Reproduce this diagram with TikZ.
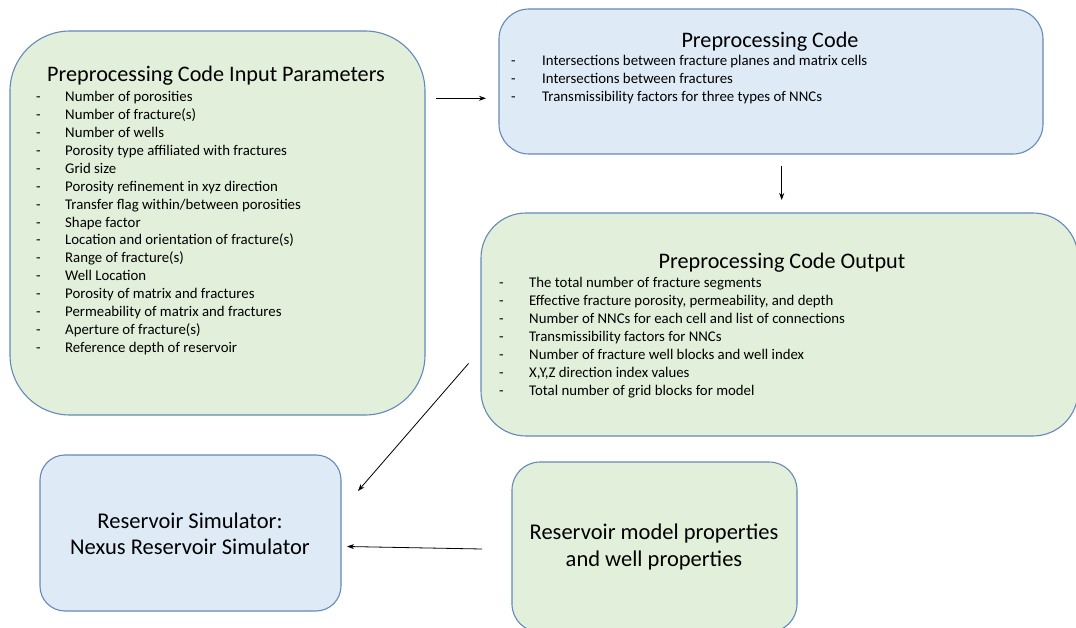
\documentclass[tikz,border=0pt]{standalone}
\usepackage{fontspec}
\setmainfont{Carlito}
\usetikzlibrary{arrows.meta}
\definecolor{gfill}{HTML}{E2EFDA}
\definecolor{bfill}{HTML}{DEEBF7}
\definecolor{edge}{HTML}{6489BB}
\begin{document}
\begin{tikzpicture}[x=1pt,y=-1pt,
  box/.style={draw=edge, line width=1.1pt, inner sep=0pt, outer sep=0pt},
  item/.style={anchor=base west, inner sep=0pt, font=\fontsize{14.8}{17}\selectfont},
  ttl/.style={anchor=base, inner sep=0pt, font=\fontsize{22.2}{26}\selectfont},
  big/.style={align=center, inner sep=0pt, font=\fontsize{22.5}{26.5}\selectfont},
  arr/.style={-{Stealth[length=7pt,width=5pt]}, line width=0.8pt}]
\useasboundingbox (0,0) rectangle (1076,628);
% boxes
\node[box, fill=gfill, rounded corners=60pt, minimum width=415pt, minimum height=384pt] (A) at (217.5,223) {};
\node[box, fill=bfill, rounded corners=30pt, minimum width=544pt, minimum height=145pt] (B) at (771,81.5) {};
\node[box, fill=gfill, rounded corners=45pt, minimum width=597pt, minimum height=223pt] (C) at (779.5,324.5) {};
\node[box, fill=bfill, rounded corners=25pt, minimum width=301pt, minimum height=156pt] (D) at (190.5,533) {};
\node[box, fill=gfill, rounded corners=28pt, minimum width=285pt, minimum height=170pt] (E) at (654.5,547) {};
% box A text
\node[ttl] (Atitle) at (216,82) {Preprocessing Code Input Parameters};
\foreach \t [count=\i from 0] in {Number of porosities, Number of fracture(s), Number of wells,
  Porosity type affiliated with fractures, Grid size, Porosity refinement in xyz direction,
  Transfer flag within/between porosities, Shape factor, Location and orientation of fracture(s),
  Range of fracture(s), Well Location, Porosity of matrix and fractures,
  Permeability of matrix and fractures, Aperture of fracture(s), Reference depth of reservoir}{
  \node[item] (Ad\i) at (36,101.5+17.93*\i) {-};
  \node[item] (At\i) at (65,101.5+17.93*\i) {\t};
}
% box B text
\node[ttl] (Btitle) at (770,47.5) {Preprocessing Code};
\foreach \t [count=\i from 0] in {Intersections between fracture planes and matrix cells,
  Intersections between fractures, Transmissibility factors for three types of NNCs}{
  \node[item] (Bd\i) at (511,65.5+18.2*\i) {-};
  \node[item] (Bt\i) at (542,65.5+18.2*\i) {\t};
}
% box C text
\node[ttl] (Ctitle) at (782,268.5) {Preprocessing Code Output};
\foreach \t [count=\i from 0] in {The total number of fracture segments,
  {Effective fracture porosity, permeability, and depth},
  Number of NNCs for each cell and list of connections, Transmissibility factors for NNCs,
  Number of fracture well blocks and well index, {X,Y,Z direction index values},
  Total number of grid blocks for model}{
  \node[item] (Cd\i) at (499,288+17.85*\i) {-};
  \node[item] (Ct\i) at (529,288+17.85*\i) {\t};
}
% box D, E text
\node[big] (Dt) at (190,534) {Reservoir Simulator:\\Nexus Reservoir Simulator};
\node[big] (Et) at (654,547) {Reservoir model properties\\and well properties};
% connectors
\coordinate (ab) at (0,98.3);
\coordinate (bc) at (781.7,0);
\draw[arr, shorten <=11pt, shorten >=13pt] (A.east |- ab) -- (B.west |- ab);
\draw[arr, shorten <=12pt, shorten >=13pt] (B.south -| bc) -- (C.north -| bc);
\draw[arr] ([xshift=-12.5pt,yshift=-39pt]C.west) -- ([xshift=17pt,yshift=-36pt]D.north east);
\draw[arr] ([xshift=-30pt,yshift=-2pt]E.west) -- ([xshift=6pt,yshift=-13.5pt]D.east);
\end{tikzpicture}
\end{document}
